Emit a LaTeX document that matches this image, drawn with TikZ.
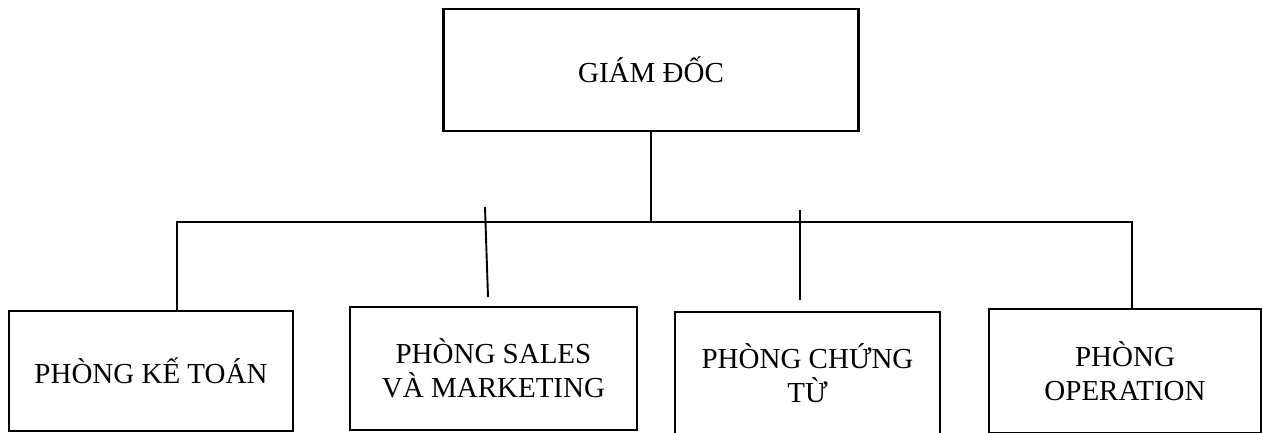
\documentclass[tikz,border=0pt]{standalone}
\usepackage{fontspec}
\setmainfont{Liberation Serif}
\usetikzlibrary{positioning}
\tikzset{
  phong/.style={draw=black, line width=2.2pt, align=center, inner sep=0pt,
    font=\fontsize{29}{34}\selectfont},
  noi/.style={black, line width=1.9pt}
}

\begin{document}
\begin{tikzpicture}[x=1pt, y=-1pt]
  \useasboundingbox (0,0) rectangle (1266,432);
  % Giam doc
  \node[phong, minimum width=415pt, minimum height=122pt] (giamdoc) at (651,70) {GIÁM ĐỐC};
  % Cac phong ban
  \node[phong, minimum width=284pt, minimum height=120pt] (ketoan) at (151,371)
    {PHÒNG KẾ TOÁN};
  \node[phong, minimum width=287pt, minimum height=123pt] (sales) at (493.5,368.5)
    {PHÒNG SALES\\VÀ MARKETING};
  \node[phong, minimum width=265pt, minimum height=122pt] (chungtu) at (807.5,373)
    {PHÒNG CHỨNG\\TỪ};
  \node[phong, minimum width=272pt, minimum height=124pt] (operation) at (1125,371)
    {PHÒNG\\OPERATION};
  % Duong noi
  \coordinate (re) at (651,222);
  \coordinate (trai) at (177,222);
  \coordinate (phai) at (1132,222);
  \draw[noi] (giamdoc.south) -- (re);
  \draw[noi] (ketoan.north -| trai) |- (phai) -- (operation.north -| phai);
  % Hai nhanh giua
  \coordinate (sales-tren) at (485,207);
  \coordinate (sales-duoi) at (488,297);
  \coordinate (chungtu-tren) at (800,210);
  \coordinate (chungtu-duoi) at (800,300);
  \draw[noi] (sales-tren) -- (sales-duoi);
  \draw[noi] (chungtu-tren) -- (chungtu-duoi);
\end{tikzpicture}
\end{document}
